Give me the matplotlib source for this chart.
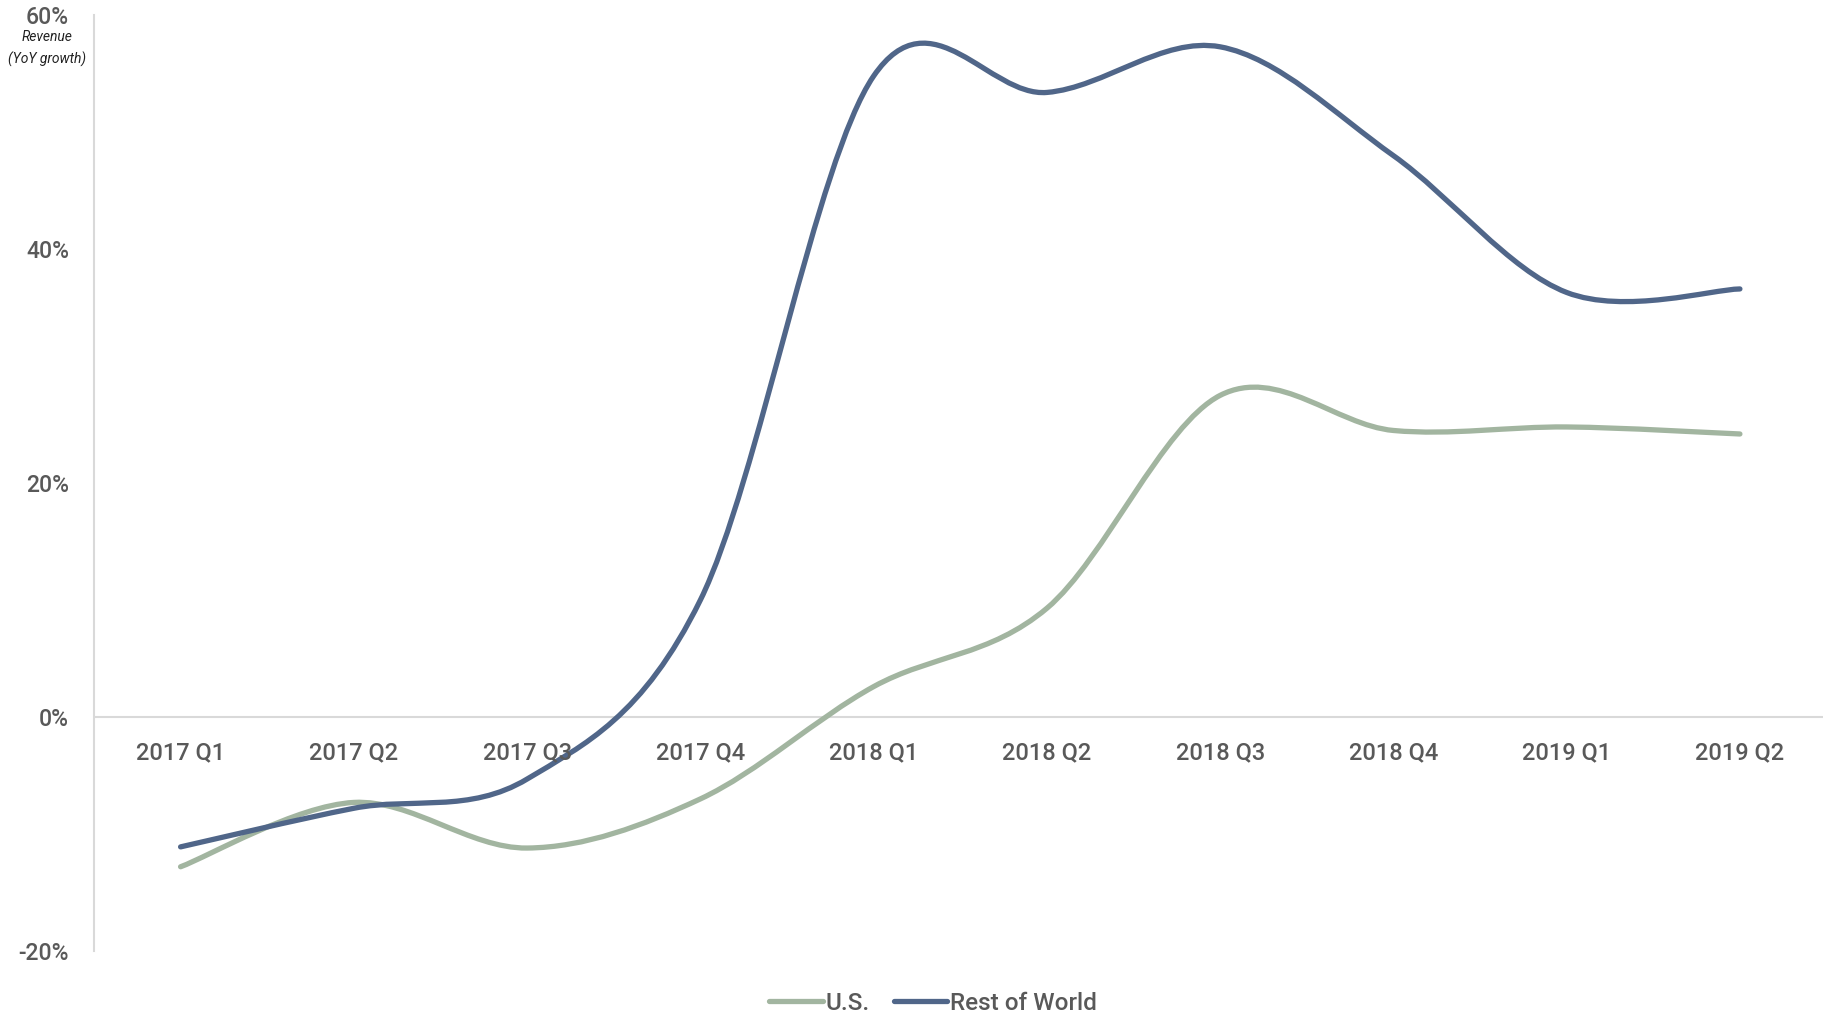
import matplotlib
matplotlib.use("Agg")
import matplotlib.pyplot as plt
from matplotlib.path import Path
from matplotlib.patches import PathPatch
from matplotlib.lines import Line2D

quarters = ["2017 Q1", "2017 Q2", "2017 Q3", "2017 Q4", "2018 Q1",
            "2018 Q2", "2018 Q3", "2018 Q4", "2019 Q1", "2019 Q2"]
us = [-12.8, -7.3, -11.2, -7.0, 2.6, 9.3, 27.5, 24.5, 24.8, 24.2]
row = [-11.1, -7.8, -5.3, 10.0, 54.8, 53.4, 57.3, 48.0, 36.3, 36.6]

us_color = "#A2B5A0"
row_color = "#506689"
text_color = "#595959"

plt.rcParams['font.family'] = ['Roboto', 'DejaVu Sans']


# smoothed line like the spreadsheet one: cubic bezier through the points
def smooth_path(xs, ys):
    pts = list(zip(xs, ys))
    verts = [pts[0]]
    codes = [Path.MOVETO]
    n = len(pts)
    for i in range(n - 1):
        p0 = pts[i - 1] if i > 0 else pts[i]
        p1 = pts[i]
        p2 = pts[i + 1]
        p3 = pts[i + 2] if i + 2 < n else pts[i + 1]
        c1 = (p1[0] + (p2[0] - p0[0]) / 6, p1[1] + (p2[1] - p0[1]) / 6)
        c2 = (p2[0] - (p3[0] - p1[0]) / 6, p2[1] - (p3[1] - p1[1]) / 6)
        verts += [c1, c2, p2]
        codes += [Path.CURVE4] * 3
    return Path(verts, codes)


fig = plt.figure(figsize=(18.35, 10.16), dpi=100)
ax = fig.add_axes([0.0512, 0.064, 0.9423, 0.921])

x = list(range(len(quarters)))
for vals, col in [(us, us_color), (row, row_color)]:
    ax.add_patch(PathPatch(smooth_path(x, vals), facecolor="none", edgecolor=col,
                           lw=3.8, capstyle="round", joinstyle="round", zorder=3))

ax.set_xlim(-0.5, 9.48)
ax.set_ylim(-20, 60)
ax.axhline(0, color="#D9D9D9", lw=1.5, zorder=1)

for s in ["top", "right", "bottom"]:
    ax.spines[s].set_visible(False)
ax.spines["left"].set_color("#D9D9D9")
ax.spines["left"].set_linewidth(1.5)

ax.set_yticks([-20, 0, 20, 40, 60])
ax.set_yticklabels(["-20%", "0%", "20%", "40%", "60%"], fontweight="medium")
ax.tick_params(axis="y", length=0, pad=18, labelsize=16.5, labelcolor=text_color)
ax.set_xticks([])

for i, q in enumerate(quarters):
    ax.annotate(q, (i, 0), xytext=(0, -26), textcoords="offset points",
                ha="center", va="center", fontsize=17, fontweight="medium",
                color=text_color)

fig.text(47 / 1835, 1 - 37 / 1016, "Revenue", ha="center", va="center",
         fontsize=10, style="italic", color="#222222")
fig.text(47 / 1835, 1 - 59 / 1016, "(YoY growth)", ha="center", va="center",
         fontsize=10, style="italic", color="#222222")

handles = [Line2D([], [], color=us_color, lw=3.8, solid_capstyle="round"),
           Line2D([], [], color=row_color, lw=3.8, solid_capstyle="round")]
fig.legend(handles, ["U.S.", "Rest of World"], loc="center",
           bbox_to_anchor=(933 / 1835, 1 - 1003 / 1016), ncol=2, frameon=False,
           prop={"size": 17.5, "weight": "medium"}, labelcolor=text_color,
           handlelength=2.2, handletextpad=0.1, columnspacing=1.0)

fig.savefig("out.png", dpi=100)
